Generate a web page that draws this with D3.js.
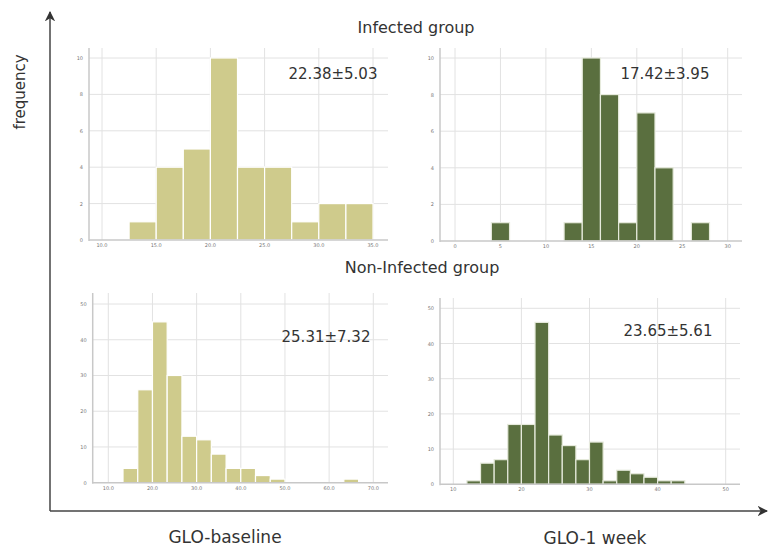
<!DOCTYPE html>
<html lang="en">
<head>
<meta charset="UTF-8">
<title>GLO histograms</title>
<script src="https://d3js.org/d3.v7.min.js"></script>
<style>
  html, body { margin: 0; padding: 0; background: #fff; }
  svg { display: block; font-family: "DejaVu Sans", sans-serif; }
</style>
</head>
<body>
<div id="chart"></div>
<script>
// --- data ---
const tlEdges = [12.5, 15, 17.5, 20, 22.5, 25, 27.5, 30, 32.5, 35];
const tlCounts = [1, 4, 5, 10, 4, 4, 1, 2, 2];
const tlXTicks = [10, 15, 20, 25, 30, 35];
const tlYTicks = [0, 2, 4, 6, 8, 10];

const trEdges = [4, 6, 8, 10, 12, 14, 16, 18, 20, 22, 24, 26, 28];
const trCounts = [1, 0, 0, 0, 1, 10, 8, 1, 7, 4, 0, 1];
const trXTicks = [0, 5, 10, 15, 20, 25, 30];
const trYTicks = [0, 2, 4, 6, 8, 10];

const blEdges = [13.33, 16.67, 20, 23.33, 26.67, 30, 33.33, 36.67, 40, 43.33, 46.67, 50, 53.33, 56.67, 60, 63.33, 66.67];
const blCounts = [4, 26, 45, 30, 13, 12, 8, 4, 4, 2, 1, 0, 0, 0, 0, 1];
const blXTicks = [10, 20, 30, 40, 50, 60, 70];
const blYTicks = [0, 10, 20, 30, 40, 50];

const brEdges = [12, 14, 16, 18, 20, 22, 24, 26, 28, 30, 32, 34, 36, 38, 40, 42, 44];
const brCounts = [1, 6, 7, 17, 17, 46, 14, 11, 7, 12, 1, 4, 3, 2, 1, 1];
const brXTicks = [10, 20, 30, 40, 50];
const brYTicks = [0, 10, 20, 30, 40, 50];

const stats = ["22.38\u00B15.03", "17.42\u00B13.95", "25.31\u00B17.32", "23.65\u00B15.61"];
const groupTitles = ["Infected group", "Non-Infected group"];
const columnTitles = ["GLO-baseline", "GLO-1 week"];
const yTitle = "frequency";

const W = 769, H = 547;
const khaki = "#cfcb8c", green = "#5a6f3f";

const svg = d3.select("#chart").append("svg")
  .attr("width", W).attr("height", H)
  .attr("viewBox", `0 0 ${W} ${H}`);

// panel layout (pixel frame for each histogram)
const panels = [
  { edges: tlEdges, counts: tlCounts, xTicks: tlXTicks, yTicks: tlYTicks, fmt: d3.format(".1f"),
    xd: [10, 35], xr: [102, 373], yd: [0, 10], yr: [240, 58], left: 89, right: 388, top: 48,
    color: khaki, stroke: "#fff", stat: stats[0], sx: 333, sy: 79 },
  { edges: trEdges, counts: trCounts, xTicks: trXTicks, yTicks: trYTicks, fmt: d3.format("d"),
    xd: [0, 30], xr: [455, 727.7], yd: [0, 10], yr: [241, 58], left: 440, right: 742, top: 48,
    color: green, stroke: "#e6eadc", stat: stats[1], sx: 665, sy: 79 },
  { edges: blEdges, counts: blCounts, xTicks: blXTicks, yTicks: blYTicks, fmt: d3.format(".1f"),
    xd: [10, 70], xr: [108.3, 373.3], yd: [0, 50], yr: [482.7, 304], left: 92.7, right: 388, top: 293,
    color: khaki, stroke: "#fff", stat: stats[2], sx: 326, sy: 342 },
  { edges: brEdges, counts: brCounts, xTicks: brXTicks, yTicks: brYTicks, fmt: d3.format("d"),
    xd: [10, 50], xr: [453.3, 725.7], yd: [0, 50], yr: [484.3, 308.3], left: 440, right: 740, top: 298,
    color: green, stroke: "#e6eadc", stat: stats[3], sx: 668, sy: 336 }
];

panels.forEach(p => {
  const x = d3.scaleLinear().domain(p.xd).range(p.xr);
  const y = d3.scaleLinear().domain(p.yd).range(p.yr);
  const base = p.yr[0];
  const g = svg.append("g");

  // gridlines
  g.selectAll(".vg").data(p.xTicks).enter().append("line")
    .attr("x1", d => x(d)).attr("x2", d => x(d))
    .attr("y1", p.top).attr("y2", base)
    .attr("stroke", "#e2e2e2").attr("stroke-width", 1);
  g.selectAll(".hg").data(p.yTicks.slice(1)).enter().append("line")
    .attr("x1", p.left).attr("x2", p.right)
    .attr("y1", d => y(d)).attr("y2", d => y(d))
    .attr("stroke", "#e2e2e2").attr("stroke-width", 1);

  // bars
  const bins = d3.pairs(p.edges).map((e, i) => ({ x0: e[0], x1: e[1], n: p.counts[i] }))
    .filter(b => b.n > 0);
  g.selectAll("rect").data(bins).enter().append("rect")
    .attr("x", d => x(d.x0))
    .attr("width", d => x(d.x1) - x(d.x0))
    .attr("y", d => y(d.n))
    .attr("height", d => base - y(d.n))
    .attr("fill", p.color)
    .attr("stroke", p.stroke).attr("stroke-width", 1.2);

  // panel axes
  g.append("line").attr("x1", p.left).attr("x2", p.left)
    .attr("y1", p.top).attr("y2", base + 1)
    .attr("stroke", "#c8c8c8").attr("stroke-width", 1.5);
  g.append("line").attr("x1", p.left).attr("x2", p.right)
    .attr("y1", base).attr("y2", base)
    .attr("stroke", "#c8c8c8").attr("stroke-width", 1.5);

  // tick labels
  g.selectAll(".xt").data(p.xTicks).enter().append("text")
    .attr("x", d => x(d)).attr("y", base + 7)
    .attr("text-anchor", "middle")
    .style("font-size", "5px").attr("fill", "#777")
    .text(d => p.fmt(d));
  g.selectAll(".yt").data(p.yTicks).enter().append("text")
    .attr("x", p.left - 6).attr("y", d => y(d) + 2)
    .attr("text-anchor", "end")
    .style("font-size", "5px").attr("fill", "#777")
    .text(d => d);

  // mean ± sd
  g.append("text")
    .attr("x", p.sx).attr("y", p.sy)
    .attr("text-anchor", "middle")
    .style("font-size", "15px").attr("fill", "#333")
    .text(p.stat);
});

// group titles
svg.append("text").attr("x", 416).attr("y", 33).attr("text-anchor", "middle")
  .style("font-size", "16px").attr("fill", "#333").text(groupTitles[0]);
svg.append("text").attr("x", 422).attr("y", 273).attr("text-anchor", "middle")
  .style("font-size", "16px").attr("fill", "#333").text(groupTitles[1]);

// outer axes with arrows
const defs = svg.append("defs");
defs.append("marker").attr("id", "arrow")
  .attr("viewBox", "0 0 10 10").attr("refX", 9).attr("refY", 5)
  .attr("markerWidth", 7).attr("markerHeight", 7).attr("orient", "auto")
  .append("path").attr("d", "M0,0 L10,5 L0,10 L3,5 Z").attr("fill", "#333");

svg.append("line").attr("x1", 50).attr("y1", 511).attr("x2", 50).attr("y2", 12)
  .attr("stroke", "#444").attr("stroke-width", 1.5).attr("marker-end", "url(#arrow)");
svg.append("line").attr("x1", 50).attr("y1", 511).attr("x2", 767).attr("y2", 511)
  .attr("stroke", "#444").attr("stroke-width", 1.5).attr("marker-end", "url(#arrow)");

// axis titles
svg.append("text")
  .attr("transform", "translate(25,92) rotate(-90)")
  .attr("text-anchor", "middle")
  .style("font-size", "15px").attr("fill", "#333")
  .text(yTitle);
svg.append("text").attr("x", 225).attr("y", 543).attr("text-anchor", "middle")
  .style("font-size", "17px").attr("fill", "#333").text(columnTitles[0]);
svg.append("text").attr("x", 595).attr("y", 544).attr("text-anchor", "middle")
  .style("font-size", "17px").attr("fill", "#333").text(columnTitles[1]);
</script>
</body>
</html>
